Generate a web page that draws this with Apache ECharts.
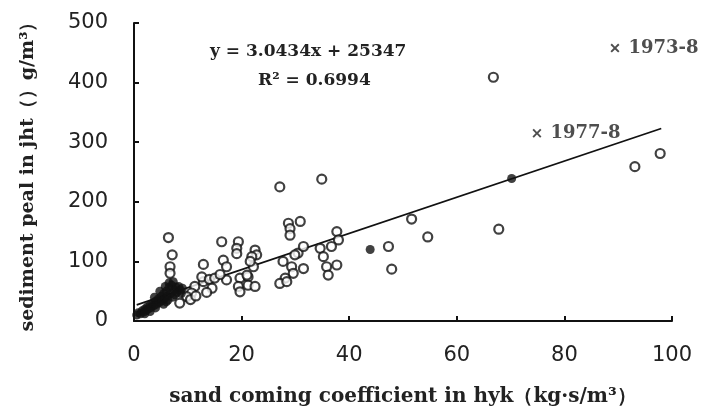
<!DOCTYPE html>
<html><head><meta charset="utf-8">
<script src="https://cdn.jsdelivr.net/npm/echarts@6/dist/echarts.min.js"></script>
<style>html,body{margin:0;padding:0;background:#fff}#c{width:702px;height:412px}</style>
</head><body><div id="c"></div>
<script>
// x ticks / y ticks
const xTicks = [0, 20, 40, 60, 80, 100];
const yTicks = [0, 100, 200, 300, 400, 500];
// hollow observations [coef, peak]
const hollowPts = [[6.4,140],[27.1,225],[7.1,111],[6.7,91],[6.7,80],[12.9,95],[16.3,133],[19.4,133],[19.1,122],[19.1,113],
 [16.6,102],[17.2,91],[17.2,69],[22.5,119],[22.8,111],[21.9,108],[22.2,91],[19.7,72],[19.4,58],[19.7,49],[21.2,74],
 [21.2,60],[22.5,58],[28.7,164],[30.9,167],[29,155],[29,144],[27.7,100],[29.3,91],[29.6,80],[28.1,72],[27.1,63],
 [28.4,66],[31.5,88],[34.9,238],[30.5,114],[29.9,111],[31.5,125],[21.6,100],[21,77],[11.3,58],[12.9,66],[12.6,74],
 [10.7,47],[9.8,41],[37.7,150],[38,136],[36.7,125],[34.6,122],[35.2,108],[35.8,91],[37.7,94],[36.1,77],[47.3,125],
 [47.9,87],[51.6,171],[54.6,141],[67.8,154],[66.8,409],[93.1,259],[97.8,281],[14,70],[15,72],[10.5,36],[11.5,42],
 [8.5,30],[14.5,55],[16,78],[13.5,48]];
// filled observations
const filledPts = [[43.9,120],[70.2,239],
 [0.5,10],[0.8,14],[1.2,12],[1.5,17],[1.8,15],[2,20],[2.3,18],[2.5,24],[2.8,21],[3,27],[3.2,23],[3.5,30],[3.7,26],
 [4,33],[4.2,28],[4.5,37],[4.7,31],[5,41],[5.2,34],[5.5,46],[5.7,38],[6,50],[6.2,42],[6.5,56],[6.8,46],[7,60],
 [7.2,40],[7.5,52],[7.8,57],[8,48],[8.3,58],[8.6,52],[8.8,46],[9,55],[5.5,28],[6,32],[4,22],[3,16],[2,12],[6.5,64],
 [5.8,58],[7.3,66],[4.8,50],[3.8,40],[6.3,35],[7.6,44]];
// marked events
const eventPts = [[89.4,458,'1973-8'],[74.9,315,'1977-8']];
// trendline endpoints
const trendPts = [[0.5,27],[98,323]];
const eqText = 'y = 3.0434x + 25347';
const r2Text = 'R² = 0.6994';
const xTitle = 'sand coming coefficient in hyk（kg·s/m³）';
const yTitle = 'sediment peal in jht（）g/m³）';

const serif = '"DejaVu Serif", "Liberation Serif", serif';
const chart = echarts.init(document.getElementById('c'), null, {renderer:'canvas'});
const xPath = 'path://M0,1.5L1.5,0L5,3.5L8.5,0L10,1.5L6.5,5L10,8.5L8.5,10L5,6.5L1.5,10L0,8.5L3.5,5Z';
chart.setOption({
  animation:false,
  backgroundColor:'#fff',
  grid:{left:134, right:30, top:23, bottom:91},
  xAxis:{type:'value', min:xTicks[0], max:xTicks[xTicks.length-1], interval:20,
    axisLine:{lineStyle:{color:'#111', width:2}},
    axisTick:{inside:true, length:5, lineStyle:{color:'#111', width:2}},
    axisLabel:{margin:24, fontFamily:'"DejaVu Sans", sans-serif', fontSize:21, color:'#222'},
    splitLine:{show:false},
    name:xTitle, nameLocation:'middle', nameGap:66,
    nameTextStyle:{fontFamily:serif, fontSize:20, fontWeight:'bold', color:'#222'}},
  yAxis:{type:'value', min:yTicks[0], max:yTicks[yTicks.length-1], interval:100,
    axisLine:{show:true, lineStyle:{color:'#111', width:2}},
    axisTick:{show:true, inside:true, length:5, lineStyle:{color:'#111', width:2}},
    axisLabel:{margin:26, fontFamily:'"DejaVu Sans", sans-serif', fontSize:21, color:'#222'},
    splitLine:{show:false},
    name:yTitle, nameLocation:'middle', nameGap:96,
    nameTextStyle:{fontFamily:serif, fontSize:19, fontWeight:'bold', color:'#222'}},
  series:[
    {type:'line', data:trendPts, symbol:'none', lineStyle:{color:'#111', width:1.8}, z:1},
    {type:'scatter', data:hollowPts, symbol:'circle', symbolSize:9,
     itemStyle:{color:'#fff', borderColor:'#111', borderWidth:2.2}, z:3},
    {type:'scatter', data:filledPts, symbol:'circle', symbolSize:9,
     itemStyle:{color:'#111'}, z:4},
    {type:'scatter', data:eventPts, symbol:xPath, symbolSize:9,
     itemStyle:{color:'#222'}, z:5,
     label:{show:true, position:'right', distance:9, formatter:p=>p.data[2],
       fontFamily:serif, fontSize:18, fontWeight:'bold', color:'#222'}}
  ],
  graphic:[
    {type:'text', left:210, top:43, style:{text:eqText, font:'bold 17px '+serif, fill:'#222'}},
    {type:'text', left:258, top:72, style:{text:r2Text, font:'bold 17px '+serif, fill:'#222'}}
  ]
});
</script></body></html>
